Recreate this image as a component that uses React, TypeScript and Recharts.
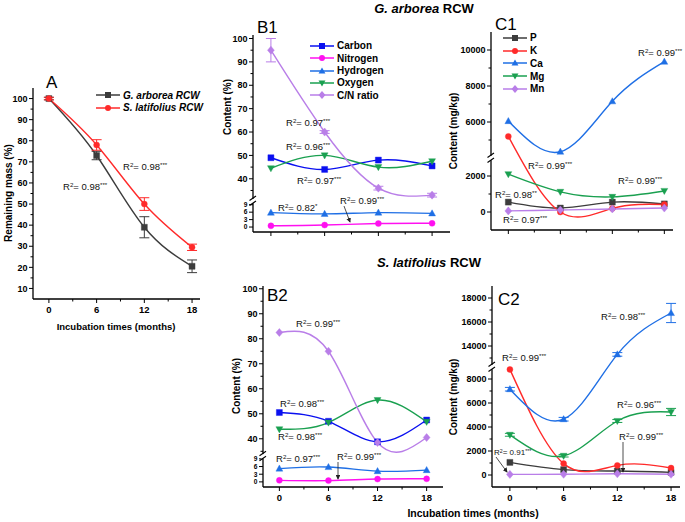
import React from 'react';
import { LineChart, Line, XAxis, YAxis, ErrorBar } from 'recharts';

// ---------- data ----------
const months = [0, 6, 12, 18];

// Panel A: remaining mass (%)
const gArboreaMass = [100, 73, 39, 20.5];
const gArboreaMassErr = [0.6, 2, 5, 3];
const sLatifoliusMass = [100, 78, 50, 29.5];
const sLatifoliusMassErr = [0.6, 2.5, 3, 1.5];

// Panel B1: G. arborea content (%)
const b1Carbon = [49, 44, 48, 45.5];
const b1Nitrogen = [0.5, 0.8, 1.4, 1.5];
const b1Hydrogen = [5.8, 5.3, 5.8, 5.5];
const b1Oxygen = [44.5, 50, 45, 47.5];
const b1CN = [95, 60, 36, 33];
const b1CNErr = [5, 0.6, 0.8, 0.8];

// Panel B2: S. latifolius content (%)
const b2Carbon = [50.5, 47, 38.8, 47.5];
const b2Nitrogen = [0.6, 0.5, 1.1, 1.2];
const b2Hydrogen = [5.2, 5.8, 4.2, 4.6];
const b2Oxygen = [43.8, 46.5, 55.5, 46.8];
const b2CN = [82.5, 75, 38.5, 40.5];

// Panel C1: G. arborea content (mg/kg)
const c1P = [550, 220, 550, 450];
const c1K = [5200, 0, 200, 420];
const c1Ca = [6050, 4350, 7150, 9350];
const c1Mg = [2100, 1120, 840, 1170];
const c1Mn = [60, 110, 170, 220];

// Panel C2: S. latifolius content (mg/kg)
const c2P = [1050, 450, 330, 220];
const c2K = [8800, 950, 800, 580];
const c2Ca = [7150, 4650, 13300, 16750];
const c2CaErr = [150, 150, 150, 800];
const c2Mg = [3350, 1600, 4500, 5250];
const c2MgErr = [120, 100, 120, 300];
const c2Mn = [50, 60, 100, 60];

// tick values
const aYTicks = [10, 20, 30, 40, 50, 60, 70, 80, 90, 100];
const aYMinor = [15, 25, 35, 45, 55, 65, 75, 85, 95];
const bYTicks = [0, 3, 6, 9, 40, 50, 60, 70, 80, 90, 100];
const bYMinor = [35, 45, 55, 65, 75, 85, 95];
const c1YTicks = [0, 2000, 6000, 8000, 10000];
const c1YMinor = [1000, 5000, 7000, 9000];
const c2YTicks = [0, 2000, 4000, 6000, 8000, 14000, 16000, 18000];
const c2YMinor = [1000, 3000, 5000, 7000, 13000, 15000, 17000];
const xTicks = [0, 6, 12, 18];
const xMinor = [3, 9, 15];

// ---------- styling ----------
const FONT = '"Liberation Sans", Arial, sans-serif';
const C_BLACK = '#3c3c3c';
const C_RED = '#ff2a2a';
const C_CARBON = '#0a10f0';
const C_NITRO = '#ff10f0';
const C_HYDRO = '#1f6fe5';
const C_GREEN = '#1aa050';
const C_VIOLET = '#b97ee8';

type Shape = 'square' | 'circle' | 'triUp' | 'triDown' | 'diamond';
type Seg = { v0: number; v1: number; p0: number; p1: number };
type Series = { key: string; name: string; values: number[]; err?: number[]; color: string; shape: Shape };
type PanelCfg = {
  left: number; top: number; w: number; h: number;
  xDomain: [number, number];
  segs: Seg[];
  yMajor: number[]; yMinor: number[];
  showXLabels: boolean;
  smallBelow?: number;
  series: Series[];
};

const pickSeg = (segs: Seg[], v: number) => {
  let s = segs[0];
  for (const seg of segs) if (v >= seg.v0 - 1e-9) s = seg;
  return s;
};
const toDisp = (segs: Seg[], v: number) => {
  const s = pickSeg(segs, v);
  return s.p0 + ((v - s.v0) * (s.p1 - s.p0)) / (s.v1 - s.v0);
};
const slopeAt = (segs: Seg[], v: number) => {
  const s = pickSeg(segs, v);
  return (s.p1 - s.p0) / (s.v1 - s.v0);
};

function markerPath(shape: Shape, cx: number, cy: number, r: number) {
  switch (shape) {
    case 'square':
      return `M${cx - r},${cy - r}h${2 * r}v${2 * r}h${-2 * r}Z`;
    case 'circle':
      return `M${cx - r},${cy}a${r},${r} 0 1,0 ${2 * r},0a${r},${r} 0 1,0 ${-2 * r},0Z`;
    case 'triUp':
      return `M${cx},${cy - r * 1.2}L${cx + r * 1.15},${cy + r * 0.85}L${cx - r * 1.15},${cy + r * 0.85}Z`;
    case 'triDown':
      return `M${cx},${cy + r * 1.2}L${cx + r * 1.15},${cy - r * 0.85}L${cx - r * 1.15},${cy - r * 0.85}Z`;
    default:
      return `M${cx},${cy - r * 1.35}L${cx + r * 1.15},${cy}L${cx},${cy + r * 1.35}L${cx - r * 1.15},${cy}Z`;
  }
}

const makeDot = (shape: Shape, color: string) => (props: any) => {
  const { cx, cy, index } = props;
  if (cx == null || cy == null) return <g key={`e${index}`} />;
  return <path key={`d${index}`} d={markerPath(shape, cx, cy, 3)} fill={color} stroke={color} strokeWidth={0.4} />;
};

// ---------- panel configs ----------
const panelA: PanelCfg = {
  left: 33, top: 88, w: 167, h: 211, xDomain: [-2, 19],
  segs: [{ v0: 5, v1: 105, p0: 0, p1: 211 }],
  yMajor: aYTicks, yMinor: aYMinor, showXLabels: true,
  series: [
    { key: 'ga', name: 'G. arborea RCW', values: gArboreaMass, err: gArboreaMassErr, color: C_BLACK, shape: 'square' },
    { key: 'sl', name: 'S. latifolius RCW', values: sLatifoliusMass, err: sLatifoliusMassErr, color: C_RED, shape: 'circle' },
  ],
};

const panelB1: PanelCfg = {
  left: 253, top: 35, w: 197, h: 197, xDomain: [-2, 20],
  segs: [{ v0: -2, v1: 10.5, p0: 0, p1: 31 }, { v0: 30.5, v1: 101.5, p0: 31, p1: 197 }],
  yMajor: bYTicks, yMinor: bYMinor, showXLabels: false, smallBelow: 10,
  series: [
    { key: 'c', name: 'Carbon', values: b1Carbon, color: C_CARBON, shape: 'square' },
    { key: 'n', name: 'Nitrogen', values: b1Nitrogen, color: C_NITRO, shape: 'circle' },
    { key: 'h', name: 'Hydrogen', values: b1Hydrogen, color: C_HYDRO, shape: 'triUp' },
    { key: 'o', name: 'Oxygen', values: b1Oxygen, color: C_GREEN, shape: 'triDown' },
    { key: 'cn', name: 'C/N ratio', values: b1CN, err: b1CNErr, color: C_VIOLET, shape: 'diamond' },
  ],
};

const panelB2: PanelCfg = {
  left: 263, top: 286, w: 180, h: 201, xDomain: [-2, 20],
  segs: [{ v0: -2, v1: 10, p0: 0, p1: 30.7 }, { v0: 33, v1: 101.1, p0: 30.7, p1: 201 }],
  yMajor: bYTicks, yMinor: bYMinor, showXLabels: true, smallBelow: 10,
  series: [
    { key: 'c', name: 'Carbon', values: b2Carbon, color: C_CARBON, shape: 'square' },
    { key: 'n', name: 'Nitrogen', values: b2Nitrogen, color: C_NITRO, shape: 'circle' },
    { key: 'h', name: 'Hydrogen', values: b2Hydrogen, color: C_HYDRO, shape: 'triUp' },
    { key: 'o', name: 'Oxygen', values: b2Oxygen, color: C_GREEN, shape: 'triDown' },
    { key: 'cn', name: 'C/N ratio', values: b2CN, color: C_VIOLET, shape: 'diamond' },
  ],
};

const panelC1: PanelCfg = {
  left: 491, top: 32, w: 182, h: 198, xDomain: [-2, 19],
  segs: [{ v0: -1000, v1: 3000, p0: 0, p1: 72 }, { v0: 4000, v1: 11000, p0: 72, p1: 198 }],
  yMajor: c1YTicks, yMinor: c1YMinor, showXLabels: false,
  series: [
    { key: 'p', name: 'P', values: c1P, color: C_BLACK, shape: 'square' },
    { key: 'k', name: 'K', values: c1K, color: C_RED, shape: 'circle' },
    { key: 'ca', name: 'Ca', values: c1Ca, color: C_HYDRO, shape: 'triUp' },
    { key: 'mg', name: 'Mg', values: c1Mg, color: C_GREEN, shape: 'triDown' },
    { key: 'mn', name: 'Mn', values: c1Mn, color: C_VIOLET, shape: 'diamond' },
  ],
};

const panelC2: PanelCfg = {
  left: 492, top: 286, w: 188, h: 201, xDomain: [-2, 19],
  segs: [{ v0: -1000, v1: 9000, p0: 0, p1: 120 }, { v0: 12250, v1: 19000, p0: 120, p1: 201 }],
  yMajor: c2YTicks, yMinor: c2YMinor, showXLabels: true,
  series: [
    { key: 'p', name: 'P', values: c2P, color: C_BLACK, shape: 'square' },
    { key: 'k', name: 'K', values: c2K, color: C_RED, shape: 'circle' },
    { key: 'ca', name: 'Ca', values: c2Ca, err: c2CaErr, color: C_HYDRO, shape: 'triUp' },
    { key: 'mg', name: 'Mg', values: c2Mg, err: c2MgErr, color: C_GREEN, shape: 'triDown' },
    { key: 'mn', name: 'Mn', values: c2Mn, color: C_VIOLET, shape: 'diamond' },
  ],
};

// ---------- chart panel ----------
const ML = 50, MT = 10, MR = 10, MB = 22;
const fkey = (v: number) => v.toFixed(3);

function Panel({ cfg }: { cfg: PanelCfg }) {
  const data = months.map((m, i) => {
    const row: Record<string, number> = { m };
    cfg.series.forEach((s) => {
      row[s.key] = toDisp(cfg.segs, s.values[i]);
      if (s.err) row[s.key + 'Err'] = s.err[i] * slopeAt(cfg.segs, s.values[i]);
    });
    return row;
  });
  const labels = new Map<string, number>();
  cfg.yMajor.forEach((v) => labels.set(fkey(toDisp(cfg.segs, v)), v));
  const breakDisp = cfg.segs.length > 1 ? cfg.segs[1].p0 : null;
  const yTicks = [
    ...cfg.yMajor.map((v) => toDisp(cfg.segs, v)),
    ...cfg.yMinor.map((v) => toDisp(cfg.segs, v)),
    ...(breakDisp != null ? [breakDisp] : []),
  ].sort((a, b) => a - b);

  const renderYTick = (p: any) => {
    const { x, y, payload } = p;
    const v = payload.value;
    if (breakDisp != null && Math.abs(v - breakDisp) < 1e-6) {
      return (
        <g key={`yb`}>
          <rect x={x - 2} y={y - 2.2} width={4} height={4.4} fill="#fff" />
          <line x1={x - 3.5} y1={y - 0.5} x2={x + 3} y2={y - 5} stroke="#000" strokeWidth={1.1} />
          <line x1={x - 3.5} y1={y + 4.5} x2={x + 3} y2={y} stroke="#000" strokeWidth={1.1} />
        </g>
      );
    }
    const lab = labels.get(fkey(v));
    const major = lab !== undefined;
    const small = major && cfg.smallBelow != null && (lab as number) < cfg.smallBelow;
    return (
      <g key={`y${fkey(v)}`}>
        <line x1={x} x2={x - (major ? 4 : 2.5)} y1={y} y2={y} stroke="#000" strokeWidth={1} />
        {major && (
          <text x={x - 5.5} y={y} dy="0.35em" textAnchor="end" fontFamily={FONT} fontWeight="bold"
            fontSize={small ? 6.6 : 9} fill="#000">
            {lab}
          </text>
        )}
      </g>
    );
  };

  const renderXTick = (p: any) => {
    const { x, y, payload } = p;
    const v = payload.value;
    const major = xTicks.includes(v);
    return (
      <g key={`x${v}`}>
        <line x1={x} x2={x} y1={y} y2={y + (major ? 4 : 2.5)} stroke="#000" strokeWidth={1} />
        {major && cfg.showXLabels && (
          <text x={x} y={y + 10.5} dy="0.35em" textAnchor="middle" fontFamily={FONT} fontWeight="bold" fontSize={9.5} fill="#000">
            {v}
          </text>
        )}
      </g>
    );
  };

  return (
    <div style={{ position: 'absolute', left: cfg.left - ML, top: cfg.top - MT }}>
      <LineChart width={cfg.w + ML + MR} height={cfg.h + MT + MB} data={data}
        margin={{ top: MT, right: MR, left: 0, bottom: 0 }}>
        <XAxis dataKey="m" type="number" domain={cfg.xDomain} ticks={[...xTicks, ...xMinor].sort((a, b) => a - b)}
          interval={0} tickSize={0} tickMargin={0} height={MB} tickLine={false}
          axisLine={{ stroke: '#000', strokeWidth: 1.3 }} tick={renderXTick} allowDataOverflow />
        <YAxis type="number" domain={[0, cfg.h]} ticks={yTicks} interval={0} width={ML} tickSize={0} tickMargin={0}
          tickLine={false} axisLine={{ stroke: '#000', strokeWidth: 1.3 }} tick={renderYTick} allowDataOverflow />
        {cfg.series.map((s) => (
          <Line key={s.key} dataKey={s.key} name={s.name} type="natural" stroke={s.color} strokeWidth={1.4}
            dot={makeDot(s.shape, s.color)} activeDot={false} isAnimationActive={false}>
            {s.err && <ErrorBar dataKey={s.key + 'Err'} width={5} stroke={s.color} strokeWidth={1} direction="y" />}
          </Line>
        ))}
      </LineChart>
    </div>
  );
}

// ---------- annotations ----------
function R2({ x, y, v, stars, size = 9.5 }: { x: number; y: number; v: string; stars: string; size?: number }) {
  const sup: React.CSSProperties = { fontSize: '0.65em', position: 'relative', top: '-0.5em', verticalAlign: 'baseline' };
  return (
    <div style={{ position: 'absolute', left: x, top: y - size * 0.6, fontSize: size, lineHeight: 1.2, whiteSpace: 'nowrap', color: '#111' }}>
      R<span style={sup}>2</span>= {v}<span style={sup}>{stars}</span>
    </div>
  );
}

function LegendBox({ x, y, items, italic, rowH, fontSize }: { x: number; y: number; items: Series[]; italic?: boolean; rowH: number; fontSize: number }) {
  return (
    <div style={{ position: 'absolute', left: x, top: y - rowH / 2 }}>
      {items.map((s) => (
        <div key={s.key} style={{ height: rowH, display: 'flex', alignItems: 'center', whiteSpace: 'nowrap' }}>
          <svg width={25} height={10} style={{ display: 'block' }}>
            <line x1={0} x2={24} y1={5} y2={5} stroke={s.color} strokeWidth={1.5} />
            <path d={markerPath(s.shape, 12, 5, 3)} fill={s.color} />
          </svg>
          <span style={{ marginLeft: 2, fontSize, fontWeight: 'bold', fontStyle: italic ? 'italic' : 'normal', color: '#000' }}>{s.name}</span>
        </div>
      ))}
    </div>
  );
}

const YTitle = ({ x, y, text }: { x: number; y: number; text: string }) => (
  <div style={{ position: 'absolute', left: x, top: y, transform: 'translate(-50%,-50%) rotate(-90deg)', whiteSpace: 'nowrap', fontSize: 10, fontWeight: 'bold' }}>
    {text}
  </div>
);
const PanelLabel = ({ x, y, text }: { x: number; y: number; text: string }) => (
  <div style={{ position: 'absolute', left: x, top: y - 10, fontSize: 17, lineHeight: '20px' }}>{text}</div>
);

export default function App() {
  return (
    <div style={{ position: 'absolute', left: 0, top: 0, width: 685, height: 522, background: '#fff', fontFamily: FONT, color: '#000', overflow: 'hidden' }}>
      <Panel cfg={panelA} />
      <Panel cfg={panelB1} />
      <Panel cfg={panelC1} />
      <Panel cfg={panelB2} />
      <Panel cfg={panelC2} />

      {/* titles */}
      <div style={{ position: 'absolute', left: 424, top: 1, transform: 'translateX(-50%)', fontSize: 13, fontWeight: 'bold', whiteSpace: 'nowrap' }}>
        <i>G. arborea</i> RCW
      </div>
      <div style={{ position: 'absolute', left: 429, top: 255, transform: 'translateX(-50%)', fontSize: 13, fontWeight: 'bold', whiteSpace: 'nowrap' }}>
        <i>S. latifolius</i> RCW
      </div>

      <PanelLabel x={46} y={83} text="A" />
      <PanelLabel x={257} y={28} text="B1" />
      <PanelLabel x={495} y={25} text="C1" />
      <PanelLabel x={267} y={296} text="B2" />
      <PanelLabel x={498} y={300} text="C2" />

      <YTitle x={8} y={193} text="Remaining mass (%)" />
      <YTitle x={227} y={107} text="Content (%)" />
      <YTitle x={453} y={131} text="Content (mg/kg)" />
      <YTitle x={236} y={386} text="Content (%)" />
      <YTitle x={453} y={397} text="Content (mg/kg)" />

      <div style={{ position: 'absolute', left: 116, top: 326, transform: 'translate(-50%,-50%)', fontSize: 9.5, fontWeight: 'bold', whiteSpace: 'nowrap' }}>
        Incubation times (months)
      </div>
      <div style={{ position: 'absolute', left: 473, top: 513, transform: 'translate(-50%,-50%)', fontSize: 10.5, fontWeight: 'bold', whiteSpace: 'nowrap' }}>
        Incubation times (months)
      </div>

      <LegendBox x={96} y={95} items={panelA.series} italic rowH={12.5} fontSize={10} />
      <LegendBox x={310} y={46} items={panelB1.series} rowH={12.3} fontSize={10} />
      <LegendBox x={503} y={38} items={panelC1.series} rowH={12.7} fontSize={10} />

      {/* R² annotations */}
      <R2 x={123} y={167} v="0.98" stars="***" />
      <R2 x={63} y={187} v="0.98" stars="***" />

      <R2 x={286} y={123} v="0.97" stars="***" />
      <R2 x={286} y={147} v="0.96" stars="***" />
      <R2 x={297} y={181} v="0.97" stars="***" />
      <R2 x={278} y={208} v="0.82" stars="*" />
      <R2 x={340} y={201} v="0.99" stars="***" />

      <R2 x={638} y={53} v="0.99" stars="***" />
      <R2 x={528} y={166} v="0.99" stars="***" />
      <R2 x={618} y={181} v="0.99" stars="***" />
      <R2 x={495} y={195} v="0.98" stars="**" />
      <R2 x={503} y={220} v="0.97" stars="***" />

      <R2 x={296} y={324} v="0.99" stars="***" />
      <R2 x={280} y={404} v="0.98" stars="***" />
      <R2 x={278} y={437} v="0.98" stars="***" />
      <R2 x={276} y={459} v="0.97" stars="***" />
      <R2 x={337} y={457} v="0.99" stars="***" />

      <R2 x={601} y={317} v="0.98" stars="***" />
      <R2 x={502} y={358} v="0.99" stars="***" />
      <R2 x={617} y={405} v="0.96" stars="***" />
      <R2 x={619} y={437} v="0.99" stars="***" />
      <R2 x={494} y={453} v="0.91" stars="***" size={8} />

      {/* arrows */}
      <svg width={685} height={522} style={{ position: 'absolute', left: 0, top: 0, pointerEvents: 'none' }}>
        <defs>
          <marker id="ah" markerWidth="6" markerHeight="6" refX="5" refY="3" orient="auto">
            <path d="M0,0L6,3L0,6Z" fill="#222" />
          </marker>
        </defs>
        <line x1={344} y1={206} x2={350} y2={222} stroke="#222" strokeWidth={0.8} markerEnd="url(#ah)" />
        <line x1={338} y1={462} x2={338} y2={479} stroke="#222" strokeWidth={0.8} markerEnd="url(#ah)" />
        <line x1={623} y1={442} x2={623} y2={472} stroke="#222" strokeWidth={0.8} markerEnd="url(#ah)" />
        <line x1={496} y1={457} x2={507} y2={472} stroke="#222" strokeWidth={0.8} markerEnd="url(#ah)" />
      </svg>
    </div>
  );
}
